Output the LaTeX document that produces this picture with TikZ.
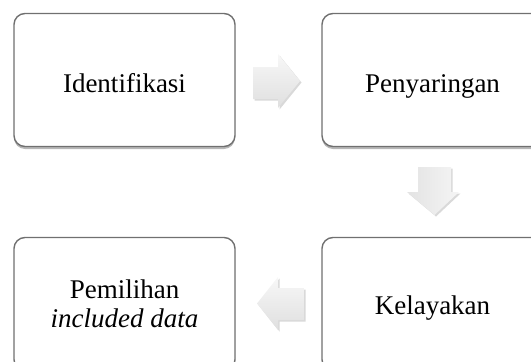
\documentclass[tikz,border=0pt]{standalone}
\usepackage{fontspec}
\setmainfont{Liberation Serif}
\usetikzlibrary{shadows,calc}
\definecolor{boxline}{HTML}{707070}
\tikzset{
  stepbox/.style={draw=boxline, line width=1.4pt, rounded corners=11pt, fill=white,
    minimum width=221pt, minimum height=133pt, inner sep=0pt,
    font=\fontsize{27}{28.5}\selectfont, align=center,
    drop shadow={shadow xshift=0pt, shadow yshift=-2.5pt, opacity=0.4, fill=black!70}},
  flowarrow/.style={top color=gray!6, bottom color=gray!25, draw=none,
    drop shadow={shadow xshift=1.5pt, shadow yshift=-1.5pt, opacity=0.3}},
  flowarrowv/.style={left color=gray!22, right color=gray!8, draw=none,
    drop shadow={shadow xshift=1.5pt, shadow yshift=-1.5pt, opacity=0.3}}
}
\begin{document}
\begin{tikzpicture}[x=1pt,y=-1pt]
\useasboundingbox (0,0) rectangle (531,362);
\node[stepbox] (ident) at (124.5,80) {\raisebox{-12pt}[0pt][0pt]{Identifikasi}};
\node[stepbox] (saring) at (432.5,80) {\raisebox{-12pt}[0pt][0pt]{Penyaringan}};
\node[stepbox] (pilih) at (124.5,304) {Pemilihan\\\textit{included data}};
\node[stepbox] (layak) at (432.5,304) {\raisebox{-10pt}[0pt][0pt]{Kelayakan}};
% right arrow
\path[flowarrow] (253,67) -- (278,67) -- (278,54) -- (300,81) -- (278,108) -- (278,99) -- (253,99) -- cycle;
% down arrow
\path[flowarrowv] (418,167) -- (451,167) -- (451,192) -- (459,192) -- (434.5,215) -- (407,192) -- (418,192) -- cycle;
% left arrow
\path[flowarrow] (304,288) -- (278,288) -- (278,277) -- (257,303.5) -- (278,330) -- (278,320) -- (304,320) -- cycle;
\end{tikzpicture}
\end{document}
